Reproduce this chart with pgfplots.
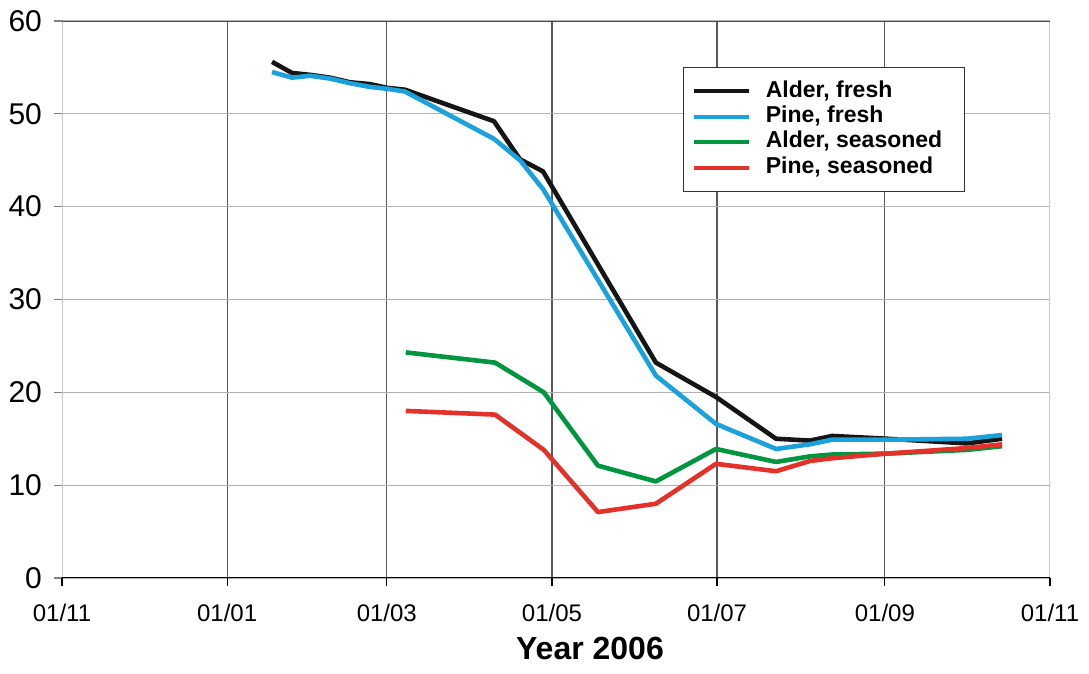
\documentclass[border=0pt]{standalone}
\usepackage{fontspec}
\setmainfont{Liberation Sans}
\usepackage{pgfplots}
\pgfplotsset{compat=1.18}
\definecolor{cblack}{HTML}{151515}
\definecolor{cblue}{HTML}{1BA1DB}
\definecolor{cgreen}{HTML}{00963F}
\definecolor{cred}{HTML}{E4322B}
\begin{document}
\begin{tikzpicture}
\begin{axis}[
  scale only axis, width=494pt, height=278.5pt,
  xmin=0, xmax=365, ymin=0, ymax=60,
  axis line style={draw=none},
  tick pos=left, tick align=outside, major tick length=4pt,
  xtick={61,120,181,242,304}, xticklabels={01/01,01/03,01/05,01/07,01/09},
  extra x ticks={0,365}, extra x tick labels={01/11,01/11},
  extra x tick style={grid=none},
  xmajorgrids, x grid style={black!65, line width=0.6pt},
  ytick={0,10,...,60}, ymajorgrids, y grid style={black!30, line width=0.6pt},
  xtick style={black, line width=0.6pt}, ytick style={black!50, line width=0.6pt},
  x tick label style={font=\fontsize{12}{12}\selectfont, yshift=-5.5pt},
  y tick label style={font=\fontsize{15}{15}\selectfont, xshift=-2.5pt},
  /pgf/number format/assume math mode=true,
  xlabel={Year 2006},
  xlabel style={font=\fontsize{16}{16}\selectfont\bfseries, at={(rel axis cs:0.5,0)}, anchor=center, yshift=-35pt, xshift=17pt},
  legend style={at={(0.6285,0.9174)}, anchor=north west, draw=black!80, line width=0.6pt, fill=white,
    font=\fontsize{11.5}{12}\selectfont\bfseries, inner xsep=4pt, inner ysep=5.5pt, row sep=0pt,
    nodes={inner ysep=1.25pt, text height=8pt, text depth=2.2pt}},
  legend cell align=left,
  legend image code/.code={\draw[line width=2pt] (0pt,0pt) -- (27.5pt,0pt); \path (33pt,0pt);},
  every axis plot/.append style={line width=2.3pt, line join=round, no marks},
]
\draw[black!20, line width=0.6pt] (rel axis cs:0,0) -- (rel axis cs:0,1);
\draw[black!20, line width=0.6pt] (rel axis cs:1,0) -- (rel axis cs:1,1);
\draw[black!70, line width=0.8pt] (rel axis cs:0,1) -- (rel axis cs:1,1);
\draw[black, line width=0.8pt] (rel axis cs:0,0) -- (rel axis cs:1,0);

\addplot[cblack] coordinates {
(77.6,55.6) (85.0,54.4) (91.6,54.2) (99.0,53.9) (106.4,53.4) (113.8,53.2) (120.1,52.8)
(126.7,52.6) (159.6,49.2) (169.2,45.1) (177.7,43.8) (219.4,23.2) (241.6,19.5) (263.8,15.0)
(276.3,14.8) (284.5,15.3) (304.8,15.0) (334.3,14.5) (347.3,15.0)};
\addlegendentry{Alder, fresh}
\addplot[cblue] coordinates {
(77.6,54.5) (85.0,53.9) (91.6,54.1) (99.0,53.8) (106.4,53.3) (113.8,52.9) (120.1,52.7)
(126.7,52.4) (159.6,47.3) (169.2,45.0) (177.7,41.9) (219.4,21.8) (241.6,16.6) (263.8,13.9)
(276.3,14.4) (284.5,14.9) (304.8,14.9) (334.3,15.0) (347.3,15.4)};
\addlegendentry{Pine, fresh}
\addplot[cgreen] coordinates {
(127.0,24.3) (160.0,23.2) (178.0,20.0) (198.0,12.1) (219.4,10.4) (241.6,13.9) (263.8,12.5)
(276.3,13.1) (284.5,13.3) (304.8,13.4) (334.3,13.8) (347.3,14.2)};
\addlegendentry{Alder, seasoned\rule{5pt}{0pt}}
\addplot[cred] coordinates {
(127.0,18.0) (160.0,17.6) (178.0,13.8) (198.0,7.1) (219.4,8.0) (241.6,12.3) (263.8,11.5)
(276.3,12.6) (284.5,12.9) (304.8,13.4) (334.3,14.0) (347.3,14.4)};
\addlegendentry{Pine, seasoned}
\end{axis}
\pgfresetboundingbox
\path (-31pt,-48pt) rectangle (513.5pt,289pt);
\end{tikzpicture}
\end{document}
